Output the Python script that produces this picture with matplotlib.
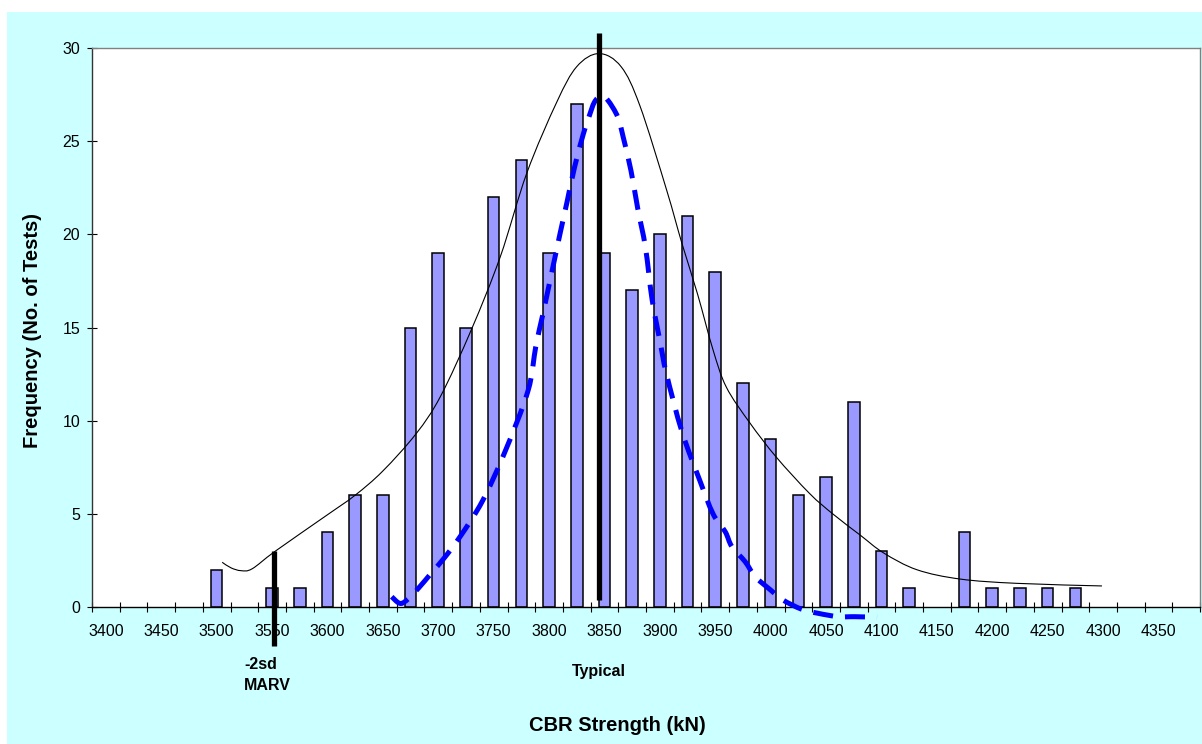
import matplotlib
matplotlib.use('Agg')
import matplotlib.pyplot as plt
import matplotlib.transforms as mtransforms
import numpy as np
from matplotlib.patches import Rectangle, PathPatch
from matplotlib.path import Path

plt.rcParams['font.family'] = ['Liberation Sans', 'DejaVu Sans']

# ========== data ==========
# histogram bins (kN) and counts
bin_values = [3500, 3525, 3550, 3575, 3600, 3625, 3650, 3675, 3700, 3725,
              3750, 3775, 3800, 3825, 3850, 3875, 3900, 3925, 3950, 3975,
              4000, 4025, 4050, 4075, 4100, 4125, 4150, 4175, 4200, 4225,
              4250, 4275]
counts = [2, 0, 1, 1, 4, 6, 6, 15, 19, 15,
          22, 24, 19, 27, 19, 17, 20, 21, 18, 12,
          9, 6, 7, 11, 3, 1, 0, 4, 1, 1,
          1, 1]

# thin black fitted curve
fit_x = [3505, 3513, 3522, 3532, 3553, 3600, 3625, 3650, 3680, 3702, 3730,
         3756, 3780, 3807, 3825, 3845, 3865, 3882, 3906, 3920, 3934, 3948,
         3960, 3981, 4005, 4035, 4056, 4081, 4102, 4132, 4171, 4222, 4299]
fit_y = [2.4, 2.1, 1.95, 2.05, 3.0, 4.95, 6.0, 7.3, 9.3, 11.3, 14.9,
         18.8, 23.3, 27.1, 29.0, 29.7, 29.0, 26.9, 22.4, 19.5, 16.8, 13.8,
         11.8, 9.9, 8.05, 6.1, 5.0, 3.85, 2.9, 2.0, 1.5, 1.27, 1.13]

# blue dashed curve
blue_x = [3658, 3665, 3671, 3682, 3694, 3705, 3720, 3740, 3760, 3781, 3788,
          3794, 3801, 3810, 3816, 3823, 3831, 3836, 3841, 3847, 3853, 3862,
          3867, 3874, 3880, 3887, 3893, 3900, 3906, 3920, 3936, 3948, 3959,
          3965, 3977, 3986, 4000, 4011, 4028, 4043, 4061, 4076, 4096]
blue_y = [0.55, 0.2, 0.34, 1.0, 1.84, 2.6, 3.8, 5.7, 8.3, 11.6, 13.97,
          15.6, 17.55, 20.06, 21.67, 23.6, 25.4, 26.3, 27.1, 27.43, 27.2, 26.3,
          25.2, 23.4, 21.4, 19.3, 16.5, 14.3, 12.5, 9.4, 6.8, 5.0, 4.04,
          3.24, 2.43, 1.63, 0.91, 0.38, -0.12, -0.34, -0.52, -0.52, -0.55]

# marker lines
typical_x = 3845
typical_y = [0.4, 30.8]
marv_x = 3552
marv_y = [-2.1, 3.0]

xtick_values = list(range(3400, 4351, 50))
ytick_values = [0, 5, 10, 15, 20, 25, 30]


def smooth_path(xs, ys):
    # excel style smoothed line: bezier segments through the points
    pts = np.column_stack([xs, ys]).astype(float)
    n = len(pts)
    verts = [pts[0]]
    codes = [Path.MOVETO]
    for i in range(n - 1):
        p0 = pts[i - 1] if i > 0 else pts[i]
        p1 = pts[i]
        p2 = pts[i + 1]
        p3 = pts[i + 2] if i + 2 < n else pts[i + 1]
        verts += [p1 + (p2 - p0) / 6, p2 - (p3 - p1) / 6, p2]
        codes += [Path.CURVE4] * 3
    return Path(verts, codes)


# ========== figure ==========
fig = plt.figure(figsize=(12.02, 7.44), dpi=100, facecolor='white')
fig.patches.append(Rectangle((7 / 1202, 0), 1 - 7 / 1202, (744 - 12) / 744,
                             transform=fig.transFigure, facecolor='#CCFFFF',
                             edgecolor='none', zorder=-10))

ax = fig.add_axes([92 / 1202, 137 / 744, 1108 / 1202, 559 / 744])
ax.set_facecolor('white')

# empty bins are not drawn
bx = [b for b, c in zip(bin_values, counts) if c > 0]
bc = [c for c in counts if c > 0]
ax.bar(bx, bc, width=10.4, color='#9999FF', edgecolor='black',
       linewidth=1.1, zorder=2)

ax.add_patch(PathPatch(smooth_path(fit_x, fit_y), fill=False, edgecolor='black',
                       linewidth=0.8, zorder=3))
blue = PathPatch(smooth_path(blue_x, blue_y), fill=False, edgecolor='#0000FF',
                 linewidth=3.6, linestyle=(0, (4, 2.4)), zorder=4, clip_on=False)
blue.set_capstyle('butt')
ax.add_patch(blue)

ax.plot([typical_x, typical_x], typical_y, color='black', linewidth=3.8,
        solid_capstyle='butt', zorder=5, clip_on=False)
ax.plot([marv_x, marv_x], marv_y, color='black', linewidth=3.8,
        solid_capstyle='butt', zorder=5, clip_on=False)

ax.set_xlim(3387.5, 4387.5)
ax.set_ylim(0, 30)

ax.set_xticks(xtick_values)
ax.set_xticklabels([str(v) for v in xtick_values], fontsize=11.5)
ax.set_xticks([3387.5 + 25 * i for i in range(41)], minor=True)
ax.tick_params(axis='x', which='major', length=0, pad=12)
ax.tick_params(axis='x', which='minor', direction='inout', length=7, width=0.8)
ax.set_yticks(ytick_values)
ax.set_yticklabels([str(v) for v in ytick_values], fontsize=11.5)
ax.tick_params(axis='y', direction='inout', length=7, width=0.8, pad=5)

ax.spines['left'].set_color('#333333')
ax.spines['bottom'].set_color('black')
ax.spines['top'].set_color('#808080')
ax.spines['right'].set_color('#808080')
for s in ax.spines.values():
    s.set_linewidth(1.0)

# annotations
trans = mtransforms.blended_transform_factory(ax.transData, fig.transFigure)
ax.text(3525, 1 - 669 / 744, '-2sd', transform=trans, fontsize=11.5,
        fontweight='bold', ha='left', va='baseline')
ax.text(3525, 1 - 690 / 744, 'MARV', transform=trans, fontsize=11.5,
        fontweight='bold', ha='left', va='baseline')
ax.text(typical_x, 1 - 676 / 744, 'Typical', transform=trans, fontsize=11.5,
        fontweight='bold', ha='center', va='baseline')

fig.text(617 / 1202, 1 - 731 / 744, 'CBR Strength (kN)', fontsize=14.5,
         fontweight='bold', ha='center', va='baseline')
fig.text(33 / 1202, 1 - 330 / 744, 'Frequency (No. of Tests)', fontsize=14.5,
         fontweight='bold', ha='center', va='center', rotation=90)

fig.savefig('out.png', dpi=100, facecolor=fig.get_facecolor())
